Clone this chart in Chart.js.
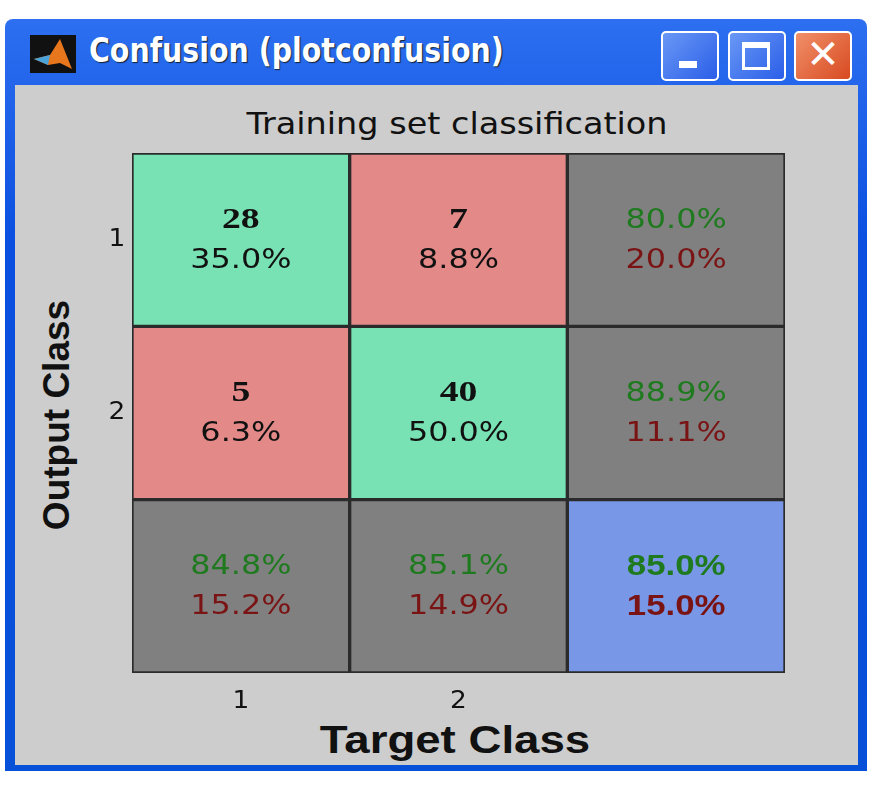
<!DOCTYPE html>
<html><head><meta charset="utf-8">
<script src="https://cdn.jsdelivr.net/npm/chart.js@4"></script>
<style>
body{margin:0;background:#fff;width:873px;height:792px;position:relative;overflow:hidden;font-family:"Liberation Sans",Arial,sans-serif}
#win{position:absolute;left:5px;top:19px;width:862px;height:752px;background:linear-gradient(#2d6ff0,#0a4fe0 30%,#0750d8);border-radius:8px 8px 0 0}
#gray{position:absolute;left:15px;top:85px;width:843px;height:680px;background:#cdcdcd}
#ttl{position:absolute;left:89px;top:30px;color:#fff;font:bold 34px "DejaVu Sans Condensed","DejaVu Sans",sans-serif;text-shadow:1px 1px 1px #123;transform-origin:0 0;transform:scaleX(0.93)}
#icon{position:absolute;left:30px;top:35px;width:46px;height:38px;background:#111}
.btn{position:absolute;top:31px;width:54px;height:46px;border:2px solid #fff;border-radius:5px;background:linear-gradient(135deg,#6a98f5,#2a5ee8)}
#close{background:linear-gradient(135deg,#f0906a,#d84a20)}
.lbl{position:absolute;color:#111;white-space:nowrap}
canvas{position:absolute}
</style></head><body>
<div id="win"></div>
<div id="icon"><svg width="46" height="38"><polygon points="4,24 20,20 30,4 42,34 30,28 18,30" fill="#e8761c"/><polygon points="4,24 20,20 18,30" fill="#4aa3d8"/></svg></div>
<div id="ttl">Confusion (plotconfusion)</div>
<div class="btn" style="left:661px"><div style="position:absolute;left:16px;top:28px;width:18px;height:7px;background:#fff"></div></div>
<div class="btn" style="left:728px"><div style="position:absolute;left:12px;top:9px;border:3px solid #fff;border-top-width:6px;box-sizing:border-box;width:28px;height:28px"></div></div>
<div class="btn" id="close" style="left:794px"><div style="position:absolute;left:0;top:-2px;width:54px;text-align:center;color:#fff;font:bold 40px 'DejaVu Sans'">✕</div></div>
<div id="gray"></div>
<div class="lbl" style="left:457px;top:123px;font-size:31px;font-family:'DejaVu Sans';transform:translate(-50%,-50%) scaleX(1.08)">Training set classification</div>
<div class="lbl" style="left:455px;top:740px;font-weight:bold;font-size:38px;transform:translate(-50%,-50%) scaleX(1.2)">Target Class</div>
<div class="lbl" style="left:57px;top:415px;font-weight:bold;font-size:37px;transform:translate(-50%,-50%) rotate(-90deg)">Output Class</div>
<canvas id="c" width="843" height="680" style="left:15px;top:85px"></canvas>
<script>
const xLabels=['1','2',''];
const yLabels=['1','2',''];
const counts=[[28,7,null],[5,40,null],[null,null,null]];
const topText=[['28','7','80.0%'],['5','40','88.9%'],['84.8%','85.1%','85.0%']];
const botText=[['35.0%','8.8%','20.0%'],['6.3%','50.0%','11.1%'],['15.2%','14.9%','15.0%']];
const cellColors=[['#78e2b4','#e38a89','#808080'],['#e38a89','#78e2b4','#808080'],['#808080','#808080','#7897e6']];
const canvas=document.getElementById('c');
const datasets=yLabels.map((r,ri)=>({label:'row'+r,data:xLabels.map(()=>1),backgroundColor:cellColors[ri],borderColor:'#2b2b2b',borderWidth:2,borderSkipped:false,barPercentage:1,categoryPercentage:1}));
function txt(ctx,s,x,y,font,sx){ctx.save();ctx.translate(x,y);ctx.scale(sx,1);ctx.font=font;ctx.fillText(s,0,0);ctx.restore();}
const textPlugin={id:'t',afterDatasetsDraw(ch){
 const ctx=ch.ctx;ctx.save();ctx.textAlign='center';ctx.textBaseline='middle';
 const xs=ch.scales.x,ys=ch.scales.y;
 const plain='27px "DejaVu Sans"';
 for(let r=0;r<3;r++)for(let c=0;c<3;c++){
  const cx=xs.getPixelForValue(c),cy=ys.getPixelForValue(r+0.5);
  const isCount=counts[r][c]!==null;const total=(r==2&&c==2);
  const margin=(r==2||c==2);
  ctx.fillStyle=margin?'#1f7a1f':'#111';
  if(isCount) txt(ctx,topText[r][c],cx,cy-19,'bold 29px "Liberation Serif"',1.3);
  else if(total) txt(ctx,topText[r][c],cx,cy-19,'bold 29px "Liberation Sans"',1.2);
  else txt(ctx,topText[r][c],cx,cy-19,plain,1.18);
  ctx.fillStyle=margin?'#7a1414':'#111';
  if(total) txt(ctx,botText[r][c],cx,cy+21,'bold 29px "Liberation Sans"',1.2);
  else txt(ctx,botText[r][c],cx,cy+21,plain,1.18);
 }
 ctx.fillStyle='#111';
 for(let r=0;r<2;r++)txt(ctx,yLabels[r],ch.chartArea.left-15,ys.getPixelForValue(r+0.5),'24px "DejaVu Sans"',1.1);
 for(let c=0;c<2;c++)txt(ctx,xLabels[c],xs.getPixelForValue(c),ch.chartArea.bottom+29,'24px "DejaVu Sans"',1.1);
 ctx.restore();}};
new Chart(canvas,{type:'bar',data:{labels:xLabels,datasets},
 options:{responsive:false,animation:false,devicePixelRatio:1,
  layout:{padding:{left:117,top:68,right:73,bottom:92}},
  plugins:{legend:{display:false},tooltip:{enabled:false}},
  scales:{x:{display:false,stacked:true},y:{display:false,stacked:true,reverse:true,min:0,max:3}}},
 plugins:[textPlugin]});
</script></body></html>
